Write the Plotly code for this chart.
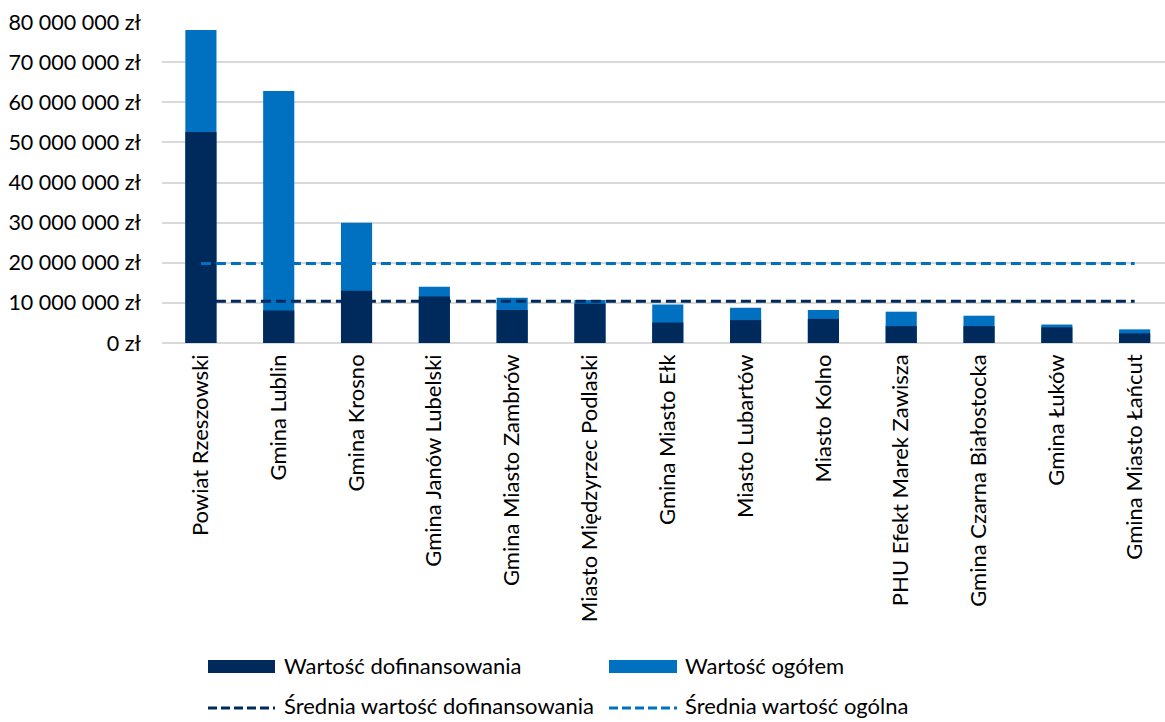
import plotly.graph_objects as go

categories = ["Powiat Rzeszowski", "Gmina Lublin", "Gmina Krosno", "Gmina Janów Lubelski",
              "Gmina Miasto Zambrów", "Miasto Międzyrzec Podlaski", "Gmina Miasto Ełk",
              "Miasto Lubartów", "Miasto Kolno", "PHU Efekt Marek Zawisza",
              "Gmina Czarna Białostocka", "Gmina Łuków", "Gmina Miasto Łańcut"]
total_value = [78.0e6, 62.8e6, 30.0e6, 14.0e6, 11.3e6, 10.7e6, 9.6e6, 8.8e6, 8.2e6, 7.8e6, 6.8e6, 4.6e6, 3.4e6]
subsidy_value = [52.6e6, 8.1e6, 13.0e6, 11.6e6, 8.2e6, 9.8e6, 5.1e6, 5.7e6, 6.0e6, 4.2e6, 4.2e6, 3.9e6, 2.4e6]
avg_subsidy = [10.4e6] * 13
avg_total = [19.8e6] * 13
tick_vals = [0, 10e6, 20e6, 30e6, 40e6, 50e6, 60e6, 70e6, 80e6]
tick_text = ["0 zł", "10 000 000 zł", "20 000 000 zł", "30 000 000 zł", "40 000 000 zł",
             "50 000 000 zł", "60 000 000 zł", "70 000 000 zł", "80 000 000 zł"]
legend_labels = ["Wartość dofinansowania", "Wartość ogółem",
                 "Średnia wartość dofinansowania", "Średnia wartość ogólna"]

NAVY = "#002A5C"
BLUE = "#0070C0"
FONT = "Lato"
FS = 22

W, H = 1165, 722
ML, MR, MT, MB = 162, 0, 22, 379
PW = W - ML - MR
PH = H - MT - MB
x_idx = list(range(len(categories)))

fig = go.Figure()
fig.add_trace(go.Bar(x=x_idx, y=total_value, marker=dict(color=BLUE, line=dict(width=0)),
                     width=0.4, name=legend_labels[1]))
fig.add_trace(go.Bar(x=x_idx, y=subsidy_value, marker=dict(color=NAVY, line=dict(width=0)),
                     width=0.4, name=legend_labels[0]))
fig.add_trace(go.Scatter(x=x_idx, y=avg_subsidy, mode="lines",
                         line=dict(color=NAVY, width=3, dash="10px,5px"), name=legend_labels[2]))
fig.add_trace(go.Scatter(x=x_idx, y=avg_total, mode="lines",
                         line=dict(color=BLUE, width=3, dash="10px,5px"), name=legend_labels[3]))

def px(x):
    return (x - ML) / PW

def py(y):
    return (H - MB - y) / PH

shapes = []
annotations = []
rows = [665, 706]
cols = [(208, 275, 282), (609, 677, 683)]
items = [(legend_labels[0], NAVY, "box"), (legend_labels[1], BLUE, "box"),
         (legend_labels[2], NAVY, "line"), (legend_labels[3], BLUE, "line")]
for i, (label, color, kind) in enumerate(items):
    yc = rows[i // 2]
    x0, x1, xt = cols[i % 2]
    if kind == "box":
        shapes.append(dict(type="rect", xref="paper", yref="paper", x0=px(x0), x1=px(x1),
                           y0=py(yc + 8), y1=py(yc - 5), fillcolor=color, line=dict(width=0)))
    else:
        shapes.append(dict(type="line", xref="paper", yref="paper", x0=px(x0), x1=px(x1),
                           y0=py(yc + 2), y1=py(yc + 2), line=dict(color=color, width=3, dash="9px,4px")))
    annotations.append(dict(text=label, xref="paper", yref="paper", x=px(xt), y=py(yc),
                            xanchor="left", yanchor="middle", showarrow=False,
                            font=dict(family=FONT, size=FS, color="#000000")))

fig.update_layout(
    width=W, height=H, barmode="overlay", showlegend=False,
    margin=dict(l=ML, r=MR, t=MT, b=MB),
    paper_bgcolor="white", plot_bgcolor="white",
    font=dict(family=FONT, size=FS, color="#000000"),
    xaxis=dict(tickmode="array", tickvals=x_idx, ticktext=categories, tickangle=-90,
               range=[-0.5, 12.39], showgrid=False, zeroline=False, showline=False,
               ticks="", ticklabelstandoff=6, tickfont=dict(family=FONT, size=FS, color="#000000")),
    yaxis=dict(range=[0, 80e6], tickmode="array", tickvals=tick_vals, ticktext=tick_text,
               showgrid=True, gridcolor="#D9D9D9", gridwidth=1.5, zeroline=True,
               zerolinecolor="#D9D9D9", zerolinewidth=1.5, showline=False, ticks="",
               ticklabelstandoff=20, tickfont=dict(family=FONT, size=21.5, color="#000000")),
    shapes=shapes, annotations=annotations,
)

fig.write_html("out.html")
